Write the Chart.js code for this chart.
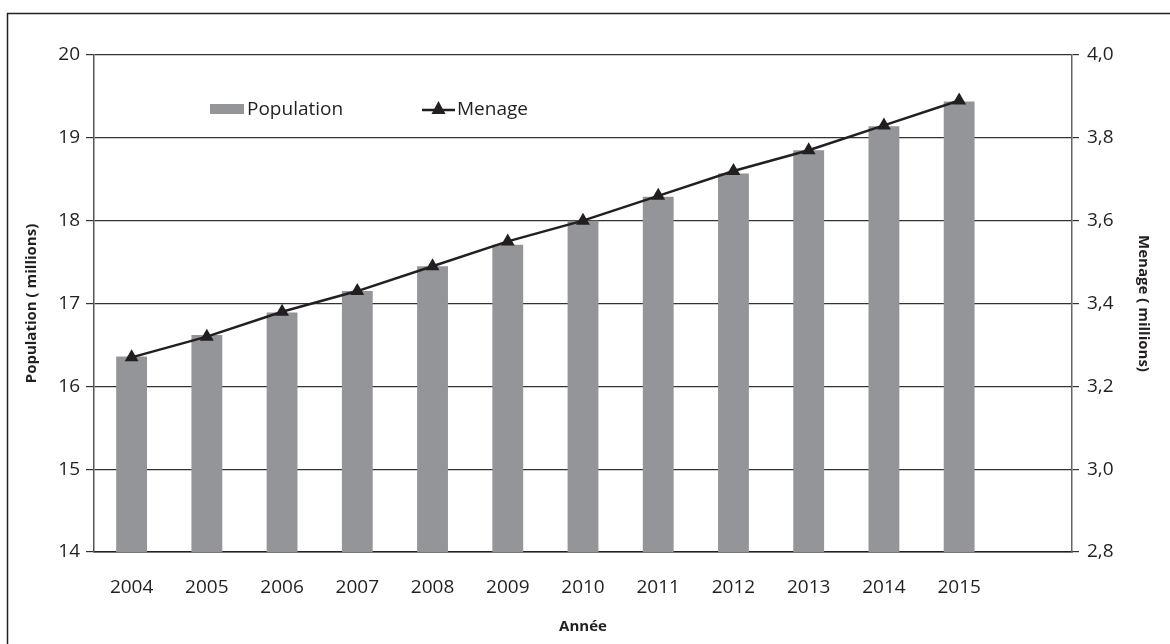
<!DOCTYPE html>
<html>
<head>
<meta charset="utf-8">
<script src="https://cdn.jsdelivr.net/npm/chart.js@4.4.0/dist/chart.umd.min.js"></script>
<style>
  html, body { margin: 0; padding: 0; background: #fff; }
  #wrap { width: 1170px; height: 644px; position: relative; }
</style>
</head>
<body>
<div id="wrap"><canvas id="popChart"></canvas></div>
<script>
// Years (the original axis keeps one empty slot after 2015)
const annees = ['2004', '2005', '2006', '2007', '2008', '2009', '2010', '2011', '2012', '2013', '2014', '2015', ''];
// Population (millions) - left axis
const population = [16.36, 16.62, 16.89, 17.15, 17.45, 17.71, 18.0, 18.29, 18.57, 18.85, 19.14, 19.44];
// Menage (millions) - right axis
const menage = [3.27, 3.32, 3.38, 3.43, 3.49, 3.55, 3.60, 3.66, 3.72, 3.77, 3.83, 3.89];

const FONT = "'Open Sans', 'DejaVu Sans', sans-serif";
const BAR_COLOR = '#939598';
const LINE_COLOR = '#231f20';

// frame lines + legend drawn inside the plot
const decor = {
    id: 'decor',
    beforeDraw(chart) {
        const ctx = chart.ctx;
        ctx.save();
        ctx.strokeStyle = '#222';
        ctx.lineWidth = 1.5;
        ctx.beginPath();
        ctx.moveTo(7.5, 644);
        ctx.lineTo(7.5, 13.5);
        ctx.lineTo(1170, 13.5);
        ctx.stroke();
        ctx.restore();
    },
    afterDraw(chart) {
        const ctx = chart.ctx;
        ctx.save();
        ctx.font = '19px ' + FONT;
        ctx.textBaseline = 'middle';
        // Population entry
        ctx.fillStyle = BAR_COLOR;
        ctx.fillRect(210, 104, 34, 10);
        ctx.fillStyle = '#231f20';
        ctx.fillText('Population', 247, 110);
        // Menage entry
        ctx.strokeStyle = LINE_COLOR;
        ctx.lineWidth = 2.5;
        ctx.beginPath();
        ctx.moveTo(422, 110);
        ctx.lineTo(455, 110);
        ctx.stroke();
        ctx.beginPath();
        ctx.moveTo(438.5, 101);
        ctx.lineTo(445.5, 114);
        ctx.lineTo(431.5, 114);
        ctx.closePath();
        ctx.fillStyle = LINE_COLOR;
        ctx.fill();
        ctx.fillText('Menage', 457, 110);
        ctx.restore();
    }
};

const ctx = document.getElementById('popChart').getContext('2d');
new Chart(ctx, {
    data: {
        labels: annees,
        datasets: [
            {
                type: 'line',
                label: 'Menage',
                data: menage,
                yAxisID: 'y2',
                borderColor: LINE_COLOR,
                backgroundColor: LINE_COLOR,
                borderWidth: 2.5,
                pointStyle: 'triangle',
                pointRadius: 8,
                pointBorderWidth: 0,
                tension: 0,
                order: 0
            },
            {
                type: 'bar',
                label: 'Population',
                data: population,
                yAxisID: 'y',
                backgroundColor: BAR_COLOR,
                categoryPercentage: 1,
                barPercentage: 0.41,
                order: 1
            }
        ]
    },
    options: {
        responsive: true,
        maintainAspectRatio: false,
        animation: false,
        layout: { padding: { top: 55, left: 0, right: 0, bottom: 0 } },
        plugins: {
            legend: { display: false },
            tooltip: { enabled: false }
        },
        scales: {
            x: {
                grid: { display: false },
                border: { display: true, color: '#222', width: 1.5 },
                ticks: { color: '#231f20', font: { family: FONT, size: 19 }, padding: 16, maxRotation: 0 },
                title: { display: true, text: 'Année', color: '#231f20', font: { family: FONT, size: 15, weight: 'bold' }, padding: { top: 0, bottom: 8 } },
                afterFit(scale) { scale.height = 92; }
            },
            y: {
                position: 'left',
                min: 14,
                max: 20,
                ticks: { stepSize: 1, color: '#231f20', font: { family: FONT, size: 19 }, padding: 6 },
                grid: { color: '#333', lineWidth: 1.2, tickLength: 8 },
                border: { display: true, color: '#555', width: 1.5 },
                title: { display: true, text: 'Population ( millions)', color: '#231f20', font: { family: FONT, size: 15, weight: 'bold' }, padding: { top: 23, bottom: 0 } },
                afterFit(scale) { scale.width = 94; }
            },
            y2: {
                position: 'right',
                min: 2.8,
                max: 4.0,
                ticks: {
                    stepSize: 0.2,
                    color: '#231f20',
                    font: { family: FONT, size: 19 },
                    padding: 8,
                    callback: (v) => v.toFixed(1).replace('.', ',')
                },
                grid: { drawOnChartArea: false, color: '#333', lineWidth: 1.2, tickLength: 7 },
                border: { display: true, color: '#666', width: 1.5 },
                title: { display: true, text: 'Menage ( millions)', color: '#231f20', font: { family: FONT, size: 15, weight: 'bold' }, padding: { top: 18, bottom: 0 } },
                afterFit(scale) { scale.width = 98; }
            }
        }
    },
    plugins: [decor]
});
</script>
</body>
</html>
